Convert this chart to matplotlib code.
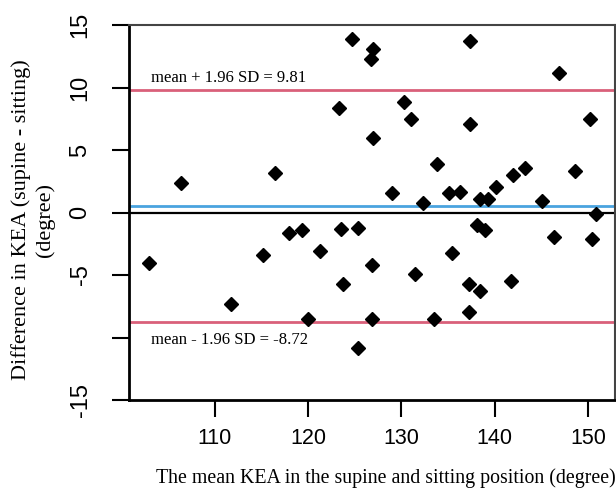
import numpy as np
import matplotlib
matplotlib.use('Agg')
import matplotlib.pyplot as plt

# Bland-Altman data
mean_kea = [102.9, 106.4, 111.7, 115.2, 116.4, 117.9, 119.3, 120.0, 121.3, 123.3,
            123.5, 123.7, 124.7, 125.3, 125.3, 126.7, 127.0, 127.0, 126.8, 126.8,
            129.0, 130.3, 131.0, 131.5, 132.3, 133.5, 133.8, 135.1, 135.4, 136.3,
            137.4, 137.4, 137.3, 137.3, 138.1, 138.4, 138.4, 139.0, 139.3, 140.1,
            141.8, 142.0, 143.2, 145.1, 146.4, 146.9, 148.6, 150.2, 150.4, 150.9]
diff_kea = [-4.0, 2.4, -7.35, -3.4, 3.15, -1.6, -1.4, -8.55, -3.1, 8.4,
            -1.35, -5.7, 13.85, -1.2, -10.8, 12.3, 13.1, 6.0, -4.2, -8.55,
            1.6, 8.8, 7.5, -4.95, 0.8, -8.55, 3.9, 1.6, -3.25, 1.65,
            13.7, 7.1, -5.7, -7.95, -1.0, 1.05, -6.3, -1.4, 1.05, 2.05,
            -5.5, 3.0, 3.6, 0.9, -1.95, 11.2, 3.35, 7.5, -2.1, -0.15]

upper_loa = 9.81
lower_loa = -8.72
mean_diff = (upper_loa + lower_loa) / 2

xticks = [110, 120, 130, 140, 150]
yticks = [-15, -10, -5, 0, 5, 10, 15]
yticklabels = ['-15', '', '-5', '0', '5', '10', '15']

fig = plt.figure(figsize=(6.16, 4.93), dpi=100)
ax = fig.add_axes([129/616, 93/493, 486/616, 375/493])

ax.axhline(0, color='black', lw=1.6, zorder=1)
ax.axhline(mean_diff, color='#4aa3df', lw=2, zorder=1)
ax.axhline(upper_loa, color='#d9607a', lw=2, zorder=1)
ax.axhline(lower_loa, color='#d9607a', lw=2, zorder=1)

ax.plot(mean_kea, diff_kea, 'D', color='black', markersize=7.5, zorder=3)

serif = 'Liberation Serif'
ax.text(103.2, 10.76, 'mean + 1.96 SD = %.2f' % upper_loa, family=serif,
        fontsize=12, va='center', ha='left')
ax.text(103.2, -10.2, 'mean - 1.96 SD = %.2f' % lower_loa, family=serif,
        fontsize=12, va='center', ha='left')

ax.set_xlim(100.8, 152.9)
ax.set_ylim(-15, 15)
ax.set_xticks(xticks)
ax.set_yticks(yticks)
ax.set_yticklabels(yticklabels, rotation=90, va='center')
ax.tick_params(direction='out', length=12, width=1.5)
ax.tick_params(axis='x', labelsize=15.5, pad=8)
ax.tick_params(axis='y', labelsize=17, pad=15)
for lab in ax.get_xticklabels() + ax.get_yticklabels():
    lab.set_family('Liberation Sans')

for side in ['left', 'bottom']:
    ax.spines[side].set_linewidth(2)
    ax.spines[side].set_color('black')
for side in ['top', 'right']:
    ax.spines[side].set_linewidth(1.5)
    ax.spines[side].set_color('#444444')

fig.text(386/616, 1 - 478/493,
         'The mean KEA in the supine and sitting position (degree)',
         family=serif, fontsize=14.3, ha='center', va='center')
fig.text(33/616, 1 - 220/493, 'Difference in KEA (supine - sitting)\n(degree)',
         family=serif, fontsize=16, ha='center', va='center',
         rotation=90, linespacing=1.3, multialignment='center')

plt.savefig('out.png', dpi=100)
plt.close(fig)
